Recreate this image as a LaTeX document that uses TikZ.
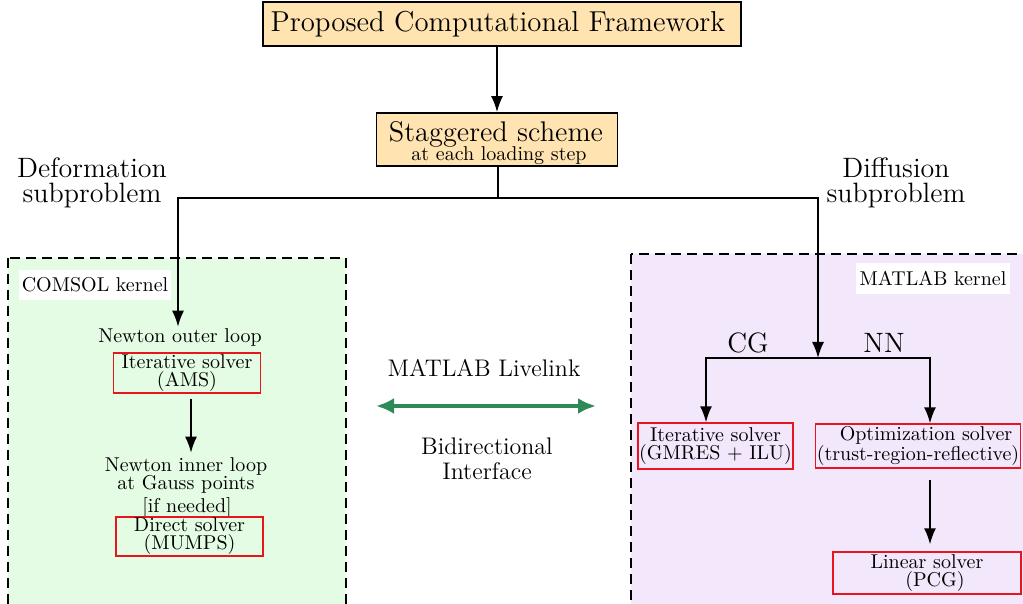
\documentclass[tikz,border=0pt]{standalone}
\usetikzlibrary{arrows.meta,positioning}

\definecolor{headfill}{HTML}{FFE3B0}
\definecolor{comsolbg}{HTML}{E4FCE4}
\definecolor{matlabbg}{HTML}{F3E7FB}
\definecolor{solverred}{HTML}{E8141E}
\definecolor{linkgreen}{HTML}{2E8B57}

\tikzset{
  headbox/.style={draw=black, line width=0.9pt, fill=headfill, inner sep=0pt, align=center},
  solverbox/.style={draw=solverred, line width=0.7pt, inner sep=0.5pt, align=center,
    font=\fontsize{10}{9}\selectfont},
  region/.style={dashed, dash pattern=on 5pt off 3pt, line width=1.1pt},
  tag/.style={fill=white, inner sep=0pt},
  plain/.style={inner sep=1pt, align=center, font=\fontsize{10}{9}\selectfont},
  biglabel/.style={inner sep=0pt, align=center, font=\fontsize{14}{12.5}\selectfont},
  flow/.style={line width=0.85pt, -{Latex[length=8pt,width=6pt]}},
  link/.style={draw=linkgreen, line width=2pt, {Latex[length=9pt,width=8pt]}-{Latex[length=9pt,width=8pt]}},
}

\begin{document}
\begin{tikzpicture}[x=0.5pt, y=-0.5pt]
  \useasboundingbox (0,0) rectangle (1023,604);
  \clip (0,0) rectangle (1023,604);

  % solver kernels
  \draw[region, fill=comsolbg] (8,258) rectangle (346,614);
  \draw[region, fill=matlabbg] (631,254) rectangle (1032,614);
  \node[tag, minimum width=76pt, minimum height=15pt] (comsol) at (95,285) {COMSOL kernel};
  \node[tag, minimum width=77pt, minimum height=15.5pt] (matlab) at (933,278.5) {MATLAB kernel};

  % top of the hierarchy
  \node[headbox, minimum width=239pt, minimum height=22pt, font=\fontsize{14.4}{16}\selectfont]
    (frame) at (502,24) {Proposed Computational Framework\hspace*{4pt}};
  \node[headbox, minimum width=120.5pt, minimum height=26.5pt] (stag) at (497,139.5) {};
  \node[anchor=base, inner sep=0pt, font=\fontsize{14.2}{16}\selectfont] (stagtitle) at (496,142) {Staggered scheme};
  \node[anchor=base, inner sep=0pt, font=\fontsize{10}{12}\selectfont] (stagsub) at (499,161) {at each loading step};
  \draw[flow] (frame.south -| stag.north) -- (stag.north);

  \node[biglabel] (deflabel) at (92,183) {Deformation\\subproblem};
  \node[biglabel] (difflabel) at (896,183) {Diffusion\\subproblem};

  % deformation side (COMSOL)
  \node[plain] (outer) at (180,338) {Newton outer loop};
  \node[solverbox, minimum width=73.5pt, minimum height=20pt] (ams) at (187,373) {Iterative solver\\(AMS)};
  \node[plain, inner sep=2pt] (inner) at (186,475) {Newton inner loop\\at Gauss points};
  \node[plain] (needed) at (187,507) {[if needed]};
  \node[solverbox, minimum width=73.5pt, minimum height=19.5pt] (mumps) at (189.5,536.5) {Direct solver\\(MUMPS)};

  % diffusion side (MATLAB)
  \node[inner sep=0pt, font=\fontsize{14}{16}\selectfont] (cg) at (748,343) {CG};
  \node[inner sep=0pt, font=\fontsize{14}{16}\selectfont] (nn) at (884,343) {NN};
  \node[solverbox, minimum width=75.5pt, minimum height=23pt] (gmres) at (715.5,446) {Iterative solver\\(GMRES + ILU)};
  \node[solverbox, minimum width=101pt, minimum height=22pt] (opt) at (918,446) {\hspace*{8pt}Optimization solver\\(trust-region-reflective)};
  \node[solverbox, minimum width=94pt, minimum height=21pt] (pcg) at (927,573) {Linear solver\\\hspace*{8pt}(PCG)};

  % branching of the staggered scheme
  \coordinate (split) at (498,198);
  \coordinate (junc) at (818,358);
  \coordinate (cgx) at (706,358);
  \coordinate (nnx) at (930,358);
  \draw[line width=0.6pt] (stag.south -| split) -- (split);
  \draw[flow] (split) -| (outer.north -| 178,0);
  \draw[flow] (split) -| (junc);
  \draw[flow] (junc) -| (gmres.north -| cgx);
  \draw[flow] (junc) -| (opt.north -| nnx);
  \draw[flow, shorten <=5.5pt, shorten >=3.5pt] (opt.south -| nnx) -- (pcg.north -| nnx);
  \draw[flow, shorten <=2.5pt] (ams.south -| 191,0) -- (inner.north -| 191,0);

  % coupling between the two kernels
  \coordinate (linkL) at (376,406);
  \coordinate (linkR) at (596,406);
  \draw[link] (linkL) -- (linkR);
  \node[inner sep=0pt, font=\fontsize{12}{14}\selectfont] (livelink) at (484,368) {MATLAB Livelink};
  \node[inner sep=0pt, align=center, font=\fontsize{12}{12.5}\selectfont] (bidir) at (487,459) {Bidirectional\\Interface};
\end{tikzpicture}
\end{document}
